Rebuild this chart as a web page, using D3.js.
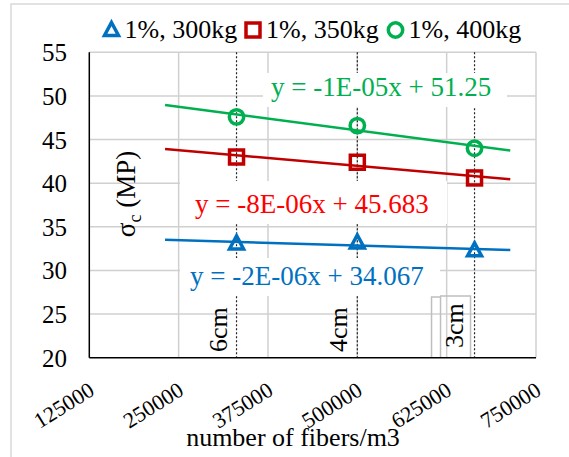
<!DOCTYPE html>
<html lang="en">
    <head>
        <meta charset="utf-8">
        <script src="https://d3js.org/d3.v7.min.js"></script>
    </head>
    <body style="margin:0">
        <svg width="569" height="457" font-family="Times New Roman"></svg>
        <script>

            // data
            const fiberCounts = [331000, 500000, 664000];
            const fiberLengths = ["6cm", "4cm", "3cm"];
            const seriesNames = ["1%, 300kg", "1%, 350kg", "1%, 400kg"];
            const strength300 = [33.1, 33.2, 32.3];
            const strength350 = [43.0, 42.4, 40.6];
            const strength400 = [47.6, 46.6, 44.0];
            const equations = ["y = -2E-06x + 34.067", "y = -8E-06x + 45.683", "y = -1E-05x + 51.25"];
            const xTicks = [125000, 250000, 375000, 500000, 625000, 750000];
            const yTicks = [20, 25, 30, 35, 40, 45, 50, 55];
            const trendBackward = 100000;
            const trendForward = 50000;

            const svg = d3.select("svg");
            const pLeft = 89.3, pRight = 536, pTop = 52.3, pBottom = 357.7;
            const fontName = "'Times New Roman'";

            const x = d3.scaleLinear().domain([125000, 750000]).range([pLeft, pRight]);
            const y = d3.scaleLinear().domain([20, 55]).range([pBottom, pTop]);

            const series = [
                {name: seriesNames[0], values: strength300, color: "#0070C0", labelColor: "#0070C0", shape: "triangle", eq: equations[0]},
                {name: seriesNames[1], values: strength350, color: "#C00000", labelColor: "#FF0000", shape: "square", eq: equations[1]},
                {name: seriesNames[2], values: strength400, color: "#00B050", labelColor: "#00B050", shape: "circle", eq: equations[2]}
            ];
            // label boxes (white fill), text position
            const eqBoxes = [
                {x: 180, y: 258, w: 260, h: 38, tx: 190, ty: 285},
                {x: 180, y: 181, w: 267, h: 43, tx: 195, ty: 213},
                {x: 263, y: 73, w: 244, h: 34, tx: 271, ty: 96}
            ];

            // chart border
            svg.append("rect")
               .attr("x", 11).attr("y", 4)
               .attr("width", 600).attr("height", 500)
               .attr("fill", "none")
               .attr("stroke", "#d9d9d9")
               .attr("stroke-width", 1.5);

            // gridlines
            svg.selectAll(".hgrid")
               .data(yTicks.slice(1))
               .enter()
               .append("line")
               .attr("x1", pLeft).attr("x2", pRight)
               .attr("y1", d => y(d)).attr("y2", d => y(d))
               .style("stroke", "#d0d0d0")
               .style("stroke-width", 1.5);

            svg.selectAll(".vgrid")
               .data(xTicks.slice(1))
               .enter()
               .append("line")
               .attr("x1", d => x(d)).attr("x2", d => x(d))
               .attr("y1", pTop).attr("y2", pBottom)
               .style("stroke", "#d0d0d0")
               .style("stroke-width", 1.5);

            // dotted lines at each fiber length
            svg.selectAll(".drop")
               .data(fiberCounts)
               .enter()
               .append("line")
               .attr("x1", d => x(d)).attr("x2", d => x(d))
               .attr("y1", pTop).attr("y2", pBottom)
               .style("stroke", "#222")
               .style("stroke-width", 1.2)
               .style("stroke-dasharray", "2,2");

            // odd grey box around the 3cm label
            const bx = x(fiberCounts[2]);
            svg.append("path")
               .attr("d", `M${bx - 43},${pBottom} V297 H${bx - 34} M${bx - 34},${pBottom} V296 H${bx - 4} V${pBottom}`)
               .attr("fill", "none")
               .attr("stroke", "#bfbfbf")
               .attr("stroke-width", 1.5);

            svg.selectAll(".lenlabel")
               .data(fiberLengths)
               .enter()
               .append("text")
               .attr("transform", (d, i) => `translate(${x(fiberCounts[i]) - (i == 2 ? 12 : 10)},${i == 2 ? 348 : 352}) rotate(-90)`)
               .style("font-family", fontName)
               .style("font-size", "26px")
               .style("fill", "black")
               .text(d => d);

            // equation label backgrounds
            svg.selectAll(".eqbox")
               .data(eqBoxes)
               .enter()
               .append("rect")
               .attr("x", d => d.x).attr("y", d => d.y)
               .attr("width", d => d.w).attr("height", d => d.h)
               .attr("fill", "white");

            // axes
            svg.append("line")
               .attr("x1", pLeft).attr("x2", pLeft).attr("y1", pTop).attr("y2", pBottom)
               .style("stroke", "black").style("stroke-width", 1.5);
            svg.append("line")
               .attr("x1", pLeft).attr("x2", pRight).attr("y1", pBottom).attr("y2", pBottom)
               .style("stroke", "black").style("stroke-width", 1.5);

            svg.selectAll(".ytick")
               .data(yTicks)
               .enter()
               .append("text")
               .attr("x", 67)
               .attr("y", d => y(d) + 9)
               .attr("text-anchor", "end")
               .style("font-family", fontName)
               .style("font-size", "25px")
               .text(d => d);

            svg.selectAll(".xtick")
               .data(xTicks)
               .enter()
               .append("text")
               .attr("transform", d => `translate(${x(d) + 6.5},394) rotate(-32)`)
               .attr("text-anchor", "end")
               .style("font-family", fontName)
               .style("font-size", "22px")
               .text(d => d);

            svg.append("text")
               .attr("x", 293).attr("y", 446)
               .attr("text-anchor", "middle")
               .style("font-family", fontName)
               .style("font-size", "26px")
               .text("number of fibers/m3");

            const yTitle = svg.append("text")
               .attr("transform", "translate(135,194) rotate(-90)")
               .attr("text-anchor", "middle")
               .style("font-family", fontName)
               .style("font-size", "27px");
            yTitle.append("tspan").text("σ");
            yTitle.append("tspan").attr("dy", 6).style("font-size", "18px").text("c");
            yTitle.append("tspan").attr("dy", -6).text(" (MP)");

            // least squares trendlines
            function fit(xs, ys) {
                const mx = d3.mean(xs), my = d3.mean(ys);
                const sxy = d3.sum(xs, (v, i) => (v - mx) * (ys[i] - my));
                const sxx = d3.sum(xs, v => (v - mx) * (v - mx));
                const slope = sxy / sxx;
                return {slope: slope, intercept: my - slope * mx};
            }
            const x0 = d3.min(fiberCounts) - trendBackward;
            const x1 = d3.max(fiberCounts) + trendForward;

            series.forEach(s => {
                const f = fit(fiberCounts, s.values);
                svg.append("line")
                   .attr("x1", x(x0)).attr("y1", y(f.intercept + f.slope * x0))
                   .attr("x2", x(x1)).attr("y2", y(f.intercept + f.slope * x1))
                   .style("stroke", s.color)
                   .style("stroke-width", 2.5);
            });

            // markers
            function marker(g, shape, color) {
                if (shape == "triangle") {
                    g.append("path").attr("d", "M0,-7.5 L7,5.5 L-7,5.5 Z");
                } else if (shape == "square") {
                    g.append("rect").attr("x", -7).attr("y", -7).attr("width", 14).attr("height", 14);
                } else {
                    g.append("circle").attr("r", 7.2);
                }
                g.selectAll("*")
                 .attr("fill", "none")
                 .attr("stroke", color)
                 .attr("stroke-width", 3.5)
                 .attr("stroke-linejoin", "miter");
            }

            series.forEach(s => {
                s.values.forEach((v, i) => {
                    const g = svg.append("g").attr("transform", `translate(${x(fiberCounts[i])},${y(v)})`);
                    marker(g, s.shape, s.color);
                });
            });

            // equation texts
            series.forEach((s, i) => {
                svg.append("text")
                   .attr("x", eqBoxes[i].tx).attr("y", eqBoxes[i].ty)
                   .style("font-family", fontName)
                   .style("font-size", "27px")
                   .style("fill", s.labelColor)
                   .text(s.eq);
            });

            // legend
            const legendX = [111.5, 253, 395.5];
            series.forEach((s, i) => {
                const g = svg.append("g").attr("transform", `translate(${legendX[i]},30)`);
                marker(g, s.shape, s.color);
                svg.append("text")
                   .attr("x", legendX[i] + 13).attr("y", 38)
                   .style("font-family", fontName)
                   .style("font-size", "26px")
                   .text(s.name);
            });

        </script>
    </body>
</html>
